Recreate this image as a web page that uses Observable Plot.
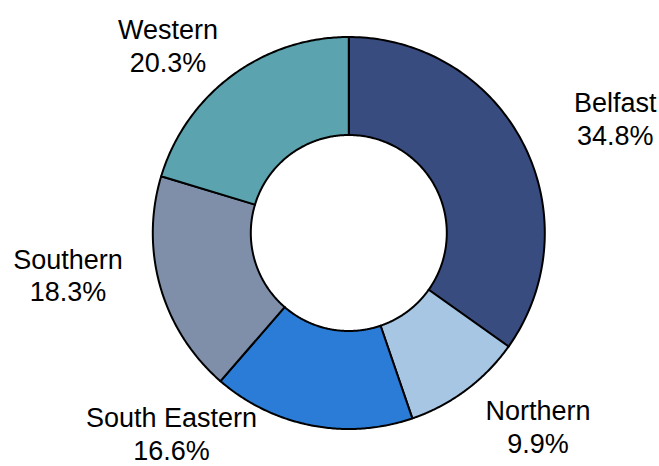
<!DOCTYPE html>
<html>
<head>
<meta charset="utf-8">
<script src="https://cdn.jsdelivr.net/npm/d3@7"></script>
<script src="https://cdn.jsdelivr.net/npm/@observablehq/plot@0.6"></script>
<style>
  html, body { margin: 0; padding: 0; background: #fff; }
  #chart svg { display: block; }
</style>
</head>
<body>
<div id="chart"></div>
<script>
// ---- data ----
const regions = ["Belfast", "Northern", "South Eastern", "Southern", "Western"];
const shares = [34.8, 9.9, 16.6, 18.3, 20.3];
const colors = ["#394C80", "#A6C6E4", "#2B7CD7", "#7F8FAA", "#5BA3AE"];

// ---- layout (label placement, polar: degrees clockwise from top, radius in outer-radius units) ----
const labelAngle = [66.7, 135.5, 221.6, 261.6, 316.2];
const labelRadius = [1.48, 1.377, 1.362, 1.448, 1.332];

const W = 659, H = 466;
const cx = 348.3, cy = 232.5, R = 196;
const inner = 0.5;

const pie = d3.pie().sort(null).value(d => d)(shares);
const pts = [];
pie.forEach((p, i) => {
  const n = 120;
  for (let k = 0; k <= n; k++) {
    const a = p.startAngle + (p.endAngle - p.startAngle) * k / n;
    pts.push({name: regions[i], x: Math.sin(a), y: Math.cos(a)});
  }
  for (let k = n; k >= 0; k--) {
    const a = p.startAngle + (p.endAngle - p.startAngle) * k / n;
    pts.push({name: regions[i], x: inner * Math.sin(a), y: inner * Math.cos(a)});
  }
});

const labels = regions.map((name, i) => {
  const a = labelAngle[i] * Math.PI / 180;
  return {
    name,
    text: name + "\n" + shares[i].toFixed(1) + "%",
    x: labelRadius[i] * Math.sin(a),
    y: labelRadius[i] * Math.cos(a)
  };
});

const chart = Plot.plot({
  width: W,
  height: H,
  margin: 0,
  x: {domain: [-cx / R, (W - cx) / R], axis: null},
  y: {domain: [-(H - cy) / R, cy / R], axis: null},
  color: {domain: regions, range: colors},
  style: {background: "#fff"},
  marks: [
    Plot.line(pts, {
      x: "x", y: "y", z: "name", fill: "name",
      stroke: "#000", strokeWidth: 2, strokeLinejoin: "round",
      curve: "linear-closed"
    }),
    Plot.text(labels, {
      x: "x", y: "y", text: "text",
      fontSize: 27, fontFamily: "Liberation Sans, Arial, sans-serif",
      fill: "#000", lineHeight: 1.22, textAnchor: "middle"
    })
  ]
});
document.getElementById("chart").append(chart);
</script>
</body>
</html>
